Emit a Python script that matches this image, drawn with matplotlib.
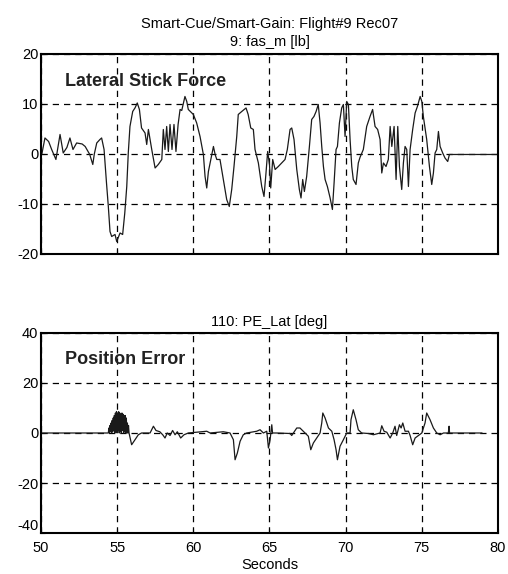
import numpy as np
import matplotlib.pyplot as plt

plt.rcParams['font.family'] = ['Liberation Sans', 'DejaVu Sans']
plt.rcParams['axes.unicode_minus'] = False

# lateral stick force, fas_m [lb]
fas_t = [50.0, 50.05, 50.26, 50.5, 50.7, 50.98, 51.25, 51.46, 51.7, 51.9, 52.1, 52.34,
         52.7, 52.9, 53.2, 53.4, 53.5, 53.66, 53.87, 53.98, 54.14, 54.3, 54.42, 54.53,
         54.64, 54.86, 54.97, 55.19, 55.36, 55.5, 55.63, 55.73, 55.84, 56.02, 56.17,
         56.32, 56.46, 56.6, 56.83, 56.94, 57.05, 57.27, 57.49, 57.7, 57.93, 58.03,
         58.14, 58.25, 58.36, 58.47, 58.6, 58.73, 58.86, 59.0, 59.13, 59.24, 59.35,
         59.45, 59.57, 59.67, 60.0, 60.22, 60.44, 60.66, 60.77, 60.88, 60.99, 61.1,
         61.32, 61.43, 61.54, 61.75, 61.97, 62.19, 62.36, 62.52, 62.67, 62.85, 62.95,
         63.18, 63.46, 63.6, 63.77, 63.94, 64.05, 64.27, 64.49, 64.64, 64.77, 64.88,
         65.0, 65.08, 65.21, 65.37, 65.58, 65.8, 66.02, 66.17, 66.35, 66.46, 66.61,
         66.79, 66.96, 67.07, 67.18, 67.29, 67.44, 67.62, 67.77, 67.92, 68.06, 68.2,
         68.32, 68.43, 68.54, 68.65, 68.8, 68.98, 69.13, 69.24, 69.37, 69.46, 69.59,
         69.74, 69.85, 69.96, 70.07, 70.18, 70.29, 70.4, 70.5, 70.68, 70.83, 70.94,
         71.16, 71.38, 71.6, 71.77, 71.93, 72.1, 72.26, 72.37, 72.48, 72.65, 72.8,
         72.92, 73.03, 73.18, 73.31, 73.42, 73.53, 73.68, 73.79, 73.9, 74.01, 74.12,
         74.23, 74.4, 74.56, 74.71, 74.89, 75.0, 75.1, 75.32, 75.5, 75.65, 75.76,
         75.87, 75.98, 76.09, 76.2, 76.37, 76.52, 76.7, 76.81, 80.0]
fas_m = [0.5, -0.1, 3.2, 2.5, 0.9, -1.1, 3.9, 0.2, 1.3, 3.2, 0.9, 2.2,
         2.0, 1.5, -0.1, -2.1, 0.0, 2.2, 2.9, 3.2, 0.9, -5.8, -10.5, -15.5,
         -16.5, -16.1, -17.5, -15.8, -16.1, -11.8, -6.5, 0.2, 5.5, 8.5, 9.2,
         10.2, 8.9, 5.2, 4.2, 1.9, 4.9, 0.9, -2.8, -2.1, -1.1, 4.9,
         0.9, 5.5, 0.5, 5.9, 0.9, 5.9, 0.5, 5.9, 8.9, 8.7, 10.2,
         11.5, 10.5, 8.9, 7.9, 6.2, 3.5, -0.1, -4.5, -6.8, -3.5, -1.8,
         1.5, -0.1, -1.1, -1.1, -5.1, -9.1, -10.5, -7.1, -2.5, 3.5, 7.9,
         8.5, 9.2, 7.9, 5.2, 4.9, 0.9, -1.8, -6.5, -8.5, -3.8, 0.5,
         -2.1, -6.8, -1.1, -3.1, -2.5, -1.8, -1.1, 0.9, 4.9, 5.2, 2.9,
         -3.1, -7.1, -8.8, -5.1, -7.5, -4.5, 1.5, 6.9, 7.5, 8.5, 9.9,
         6.2, 1.5, -2.5, -5.1, -6.5, -8.8, -11.1, -5.8, 0.9, 1.5, 6.2,
         9.2, 9.9, 3.5, 10.5, 9.9, 2.9, -2.5, -5.1, -6.1, -1.8, -0.7,
         0.9, 5.5, 7.5, 8.9, 5.5, 4.9, 2.9, -3.8, -1.8, -2.5, -1.1,
         5.5, 1.5, 5.5, -5.1, 5.5, -2.5, -7.1, -1.8, 1.5, 0.9, -6.5,
         0.9, 4.9, 8.2, 9.5, 11.5, 10.5, 7.5, 2.9, -2.5, -6.1, -3.8,
         0.2, 0.9, 4.5, 1.5, 0.2, -0.8, -1.5, -0.1, -0.1]

# lateral position error, PE_Lat [deg]
pe_t_a = [50.0, 54.42]
pe_a = [0.0, 0.0]
# fast oscillation between 54.4 s and 55.8 s
pe_blob = [0, 2, 0, 3, 0.5, 4, 0, 5, 0.5, 6, 1, 7, 0, 8, 1, 8.6, 0, 8, 1, 8.5,
           0, 8, 0.5, 7.5, 0, 8, 1, 7.5, 0, 7, 0.5, 7, 0, 6, 0, 4, 0, 3, 0]
pe_t_b = [55.95, 56.17, 56.39, 56.6, 57.16, 57.38, 57.55, 57.8, 57.99, 58.14, 58.29,
          58.47, 58.64, 58.8, 58.95, 59.17, 59.39, 59.67, 60.88, 61.1, 61.97, 62.41,
          62.63, 62.74, 62.89, 63.07, 63.28, 63.5, 64.16, 64.38, 64.6, 64.82, 64.93,
          65.04, 65.15, 65.2, 65.48, 66.35, 66.46, 66.57, 66.79, 67.0, 67.33, 67.55,
          67.71, 67.88, 68.1, 68.32, 68.43, 68.5, 68.65, 68.87, 69.09, 69.24, 69.37,
          69.46, 69.63, 69.85, 70.07, 70.29, 70.35, 70.5, 70.68, 70.83, 71.05, 71.49,
          71.82, 72.26, 72.37, 72.52, 72.7, 72.92, 73.09, 73.24, 73.35, 73.53, 73.64,
          73.75, 73.9, 74.12, 74.23, 74.4, 74.56, 74.78, 75.0, 75.21, 75.32, 75.54,
          75.76, 75.98, 76.2, 76.42, 76.74, 76.79, 76.82, 78.94]
pe_b = [-4.7, -2.7, -0.7, 0.0, 0.0, 2.7, 1.0, 0.5, -0.7, -2.0, 0.0,
        -1.0, 1.0, -0.7, 0.5, -2.0, -0.7, 0.0, 0.7, 0.0, 0.5, 0.0,
        -2.7, -10.7, -8.0, -3.3, -0.7, 0.0, 0.7, 1.3, 0.0, 0.7, -6.0,
        -2.7, 3.3, 0.0, 0.0, -0.2, -1.0, 0.0, 2.0, 2.0, 0.0, -1.3,
        -6.7, -4.0, -2.0, 0.0, 4.0, 8.0, 6.0, 2.0, 0.7, -2.7, -6.7,
        -10.7, -5.3, -2.7, 0.0, 0.0, 5.3, 9.3, 5.3, 1.3, 0.0, -0.2,
        -0.7, 0.0, 2.9, 0.7, 0.3, -2.0, 0.0, 2.7, -1.0, 3.3, 2.0,
        4.0, 0.7, 0.7, -1.0, -4.7, -2.0, -1.0, 0.0, 4.0, 8.0, 5.3,
        2.0, 0.0, -0.7, 0.0, 0.0, 2.7, 0.0, 0.0]

pe_t = pe_t_a + list(np.linspace(54.42, 55.78, len(pe_blob))) + pe_t_b
pe_lat = pe_a + pe_blob + pe_b

fig = plt.figure(figsize=(5.08, 5.74), dpi=100)
ax1 = fig.add_axes([0.0807, 0.5575, 0.8996, 0.3485])
ax2 = fig.add_axes([0.0807, 0.0714, 0.8996, 0.3485])

ax1.plot(fas_t, fas_m, color='#1a1a1a', lw=0.9)
ax2.plot(pe_t, pe_lat, color='#1a1a1a', lw=0.9)

for ax, lim, ticks in [(ax1, 20, [-20, -10, 0, 10, 20]), (ax2, 40, [-40, -20, 0, 20, 40])]:
    ax.set_xlim(50, 80)
    ax.set_ylim(-lim, lim)
    ax.set_xticks([50, 55, 60, 65, 70, 75, 80])
    ax.set_yticks(ticks)
    ax.grid(True, color='black', ls=(0, (5, 4)), lw=0.9)
    ax.tick_params(direction='in', length=3, labelsize=10.5)
    ax.tick_params(axis='y', pad=2)
    ax.tick_params(axis='x', pad=6)
    for s in ax.spines.values():
        s.set_linewidth(1.5)

ax1.tick_params(labelbottom=False)

# end labels sit slightly inside the axis range, as in MATLAB output
for lab in ax2.get_yticklabels():
    if lab.get_text() == '-40':
        lab.set_verticalalignment('bottom')

ax1.set_title('Smart-Cue/Smart-Gain: Flight#9 Rec07\n9: fas_m [lb]',
              fontsize=10.5, pad=6, linespacing=1.3)
ax2.set_title('110: PE_Lat [deg]', fontsize=10.5, pad=5)
ax2.set_xlabel('Seconds', fontsize=10.5, labelpad=2)

ax1.text(0.0525, 0.863, 'Lateral Stick Force', transform=ax1.transAxes,
         fontsize=13, fontweight='bold', ha='left', va='center', color='#222222')
ax2.text(0.0525, 0.867, 'Position Error', transform=ax2.transAxes,
         fontsize=13, fontweight='bold', ha='left', va='center', color='#222222')

fig.savefig('out.png', dpi=100)
